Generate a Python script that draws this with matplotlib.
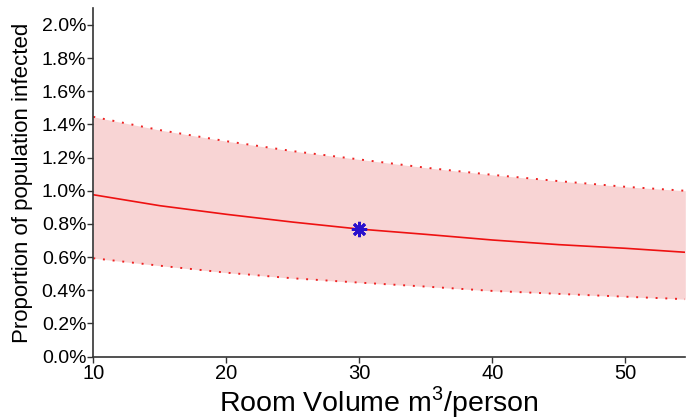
import matplotlib
matplotlib.use("Agg")
import matplotlib.pyplot as plt
from matplotlib.ticker import FuncFormatter

plt.rcParams['font.family'] = ['Liberation Sans', 'DejaVu Sans']
plt.rcParams['mathtext.fontset'] = 'custom'
plt.rcParams['mathtext.rm'] = 'Liberation Sans'

# Data (percent of population infected)
room_volume = [10, 15, 20, 25, 30, 35, 40, 45, 50, 54.5]
central = [0.976, 0.910, 0.858, 0.811, 0.769, 0.737, 0.703, 0.675, 0.653, 0.629]
upper = [1.446, 1.366, 1.299, 1.239, 1.189, 1.139, 1.096, 1.058, 1.024, 1.000]
lower = [0.593, 0.548, 0.506, 0.472, 0.446, 0.422, 0.396, 0.378, 0.361, 0.346]
marker_x = [30]
marker_y = [0.769]
x_ticks = [10, 20, 30, 40, 50]
y_ticks = [0.0, 0.2, 0.4, 0.6, 0.8, 1.0, 1.2, 1.4, 1.6, 1.8, 2.0]

fig = plt.figure(figsize=(6.86, 4.19), dpi=100)
ax = fig.add_axes([0.136, 0.149, 0.863, 0.831])

ax.fill_between(room_volume, lower, upper, color='#f8d4d4', linewidth=0)
ax.plot(room_volume, upper, color='#ee2222', linestyle=(0, (1, 4)), linewidth=1.4)
ax.plot(room_volume, lower, color='#ee2222', linestyle=(0, (1, 4)), linewidth=1.4)
ax.plot(room_volume, central, color='#ee1111', linewidth=1.2)
ax.plot(marker_x, marker_y, linestyle='none', marker=(8, 2, 0), markersize=11,
        markeredgewidth=2, color='#2a10cc', zorder=5)

ax.set_xlim(10, 54.5)
ax.set_ylim(0, 2.1)
ax.set_xticks(x_ticks)
ax.set_yticks(y_ticks)
ax.yaxis.set_major_formatter(FuncFormatter(lambda v, p: f"{v:.1f}%"))

for s in ['top', 'right']:
    ax.spines[s].set_visible(False)
for s in ['left', 'bottom']:
    ax.spines[s].set_color('#333333')
    ax.spines[s].set_linewidth(1.2)

ax.tick_params(axis='both', direction='out', length=4, width=1, color='#333333', pad=1)
ax.tick_params(axis='x', labelsize=14.5)
ax.tick_params(axis='y', labelsize=14)
ax.set_xlabel('Room Volume m$^\\mathrm{3}$/person', fontsize=20.5)
ax.xaxis.label.set_verticalalignment('baseline')
ax.xaxis.set_label_coords(0.482, -0.157)
ax.set_ylabel('Proportion of population infected', fontsize=16)
ax.yaxis.set_label_coords(-0.102, 0.5)

fig.savefig('out.png', dpi=100)
